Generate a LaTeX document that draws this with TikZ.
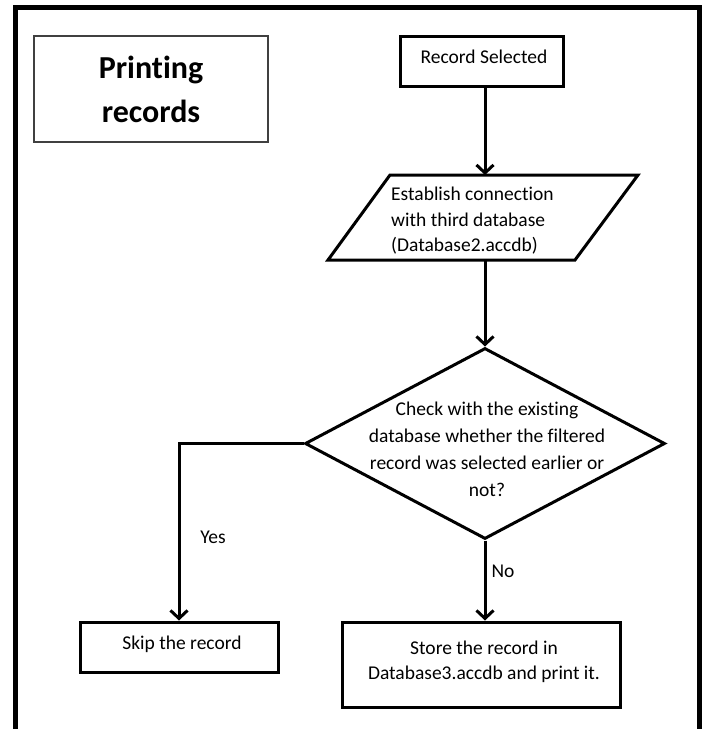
\documentclass[tikz,border=0pt]{standalone}
\usepackage{fontspec}
\setmainfont{Carlito}[Ligatures={NoCommon}]
\usetikzlibrary{arrows.meta,shapes.geometric}
\begin{document}
\begin{tikzpicture}[x=1pt,y=-1pt,
  txt/.style={font=\fontsize{19.5}{25.5}\selectfont, inner sep=0pt},
  boxed/.style={draw, line width=3pt, inner sep=0pt, line join=miter},
  arr/.style={line width=3pt, -{Straight Barb[length=8pt,width=17pt]}}]
\useasboundingbox (0,0) rectangle (706,729);
\clip (0,0) rectangle (706,729);
% outer frame (bottom edge lies outside the picture)
\draw[line width=5pt, line join=miter] (15.5,760) -- (15.5,7.5) -- (699.5,7.5) -- (699.5,760);
% title
\node[draw=black!75, line width=1.3pt, minimum width=234pt, minimum height=106pt,
      inner sep=0pt, align=center, font=\fontsize{32}{44}\selectfont\bfseries]
      (title) at (151,89) {Printing\\records};
% record selected
\node[boxed, minimum width=163pt, minimum height=50pt] (rs) at (481.5,61.5) {};
\node[txt] (rst) at (484,57) {Record Selected};
% parallelogram
\coordinate (pa) at (390,175);
\coordinate (pb) at (638,175);
\coordinate (pc) at (575,260);
\coordinate (pd) at (328,260);
\coordinate (ptop) at (485,175);
\coordinate (pbot) at (485,260);
\draw[line width=3pt, line join=miter] (pa) -- (pb) -- (pc) -- (pd) -- cycle;
\node[txt, anchor=west, align=left] (par) at (391,221) {Establish connection\\with third database\\(Database2.accdb)};
% decision
\node[diamond, draw, line width=3pt, minimum width=360pt, minimum height=191pt, inner sep=0pt] (chk) at (485,443.5) {};
\node[txt, align=center, font=\fontsize{19.5}{27}\selectfont] (chkt) at (487,449)
  {Check with the existing\\database whether the filtered\\record was selected earlier or\\not?};
% outcomes
\node[boxed, minimum width=198pt, minimum height=50pt] (skip) at (179,647) {};
\node[txt] (skipt) at (182,644) {Skip the record};
\node[boxed, minimum width=278pt, minimum height=85pt] (store) at (481,664.5) {};
\node[txt, align=center] (storet) at (484,662) {Store the record in\\Database3.accdb and print it.};
% connectors
\draw[arr] (rs.south -| ptop) -- (ptop);
\draw[arr] (pbot) -- (chk.north);
\draw[arr] (chk.west) -| (skip.north);
\draw[arr] (chk.south) -- (store.north -| chk.south);
% labels
\node[txt] (yes) at (213,537) {Yes};
\node[txt] (no) at (503,571) {No};
\end{tikzpicture}
\end{document}
